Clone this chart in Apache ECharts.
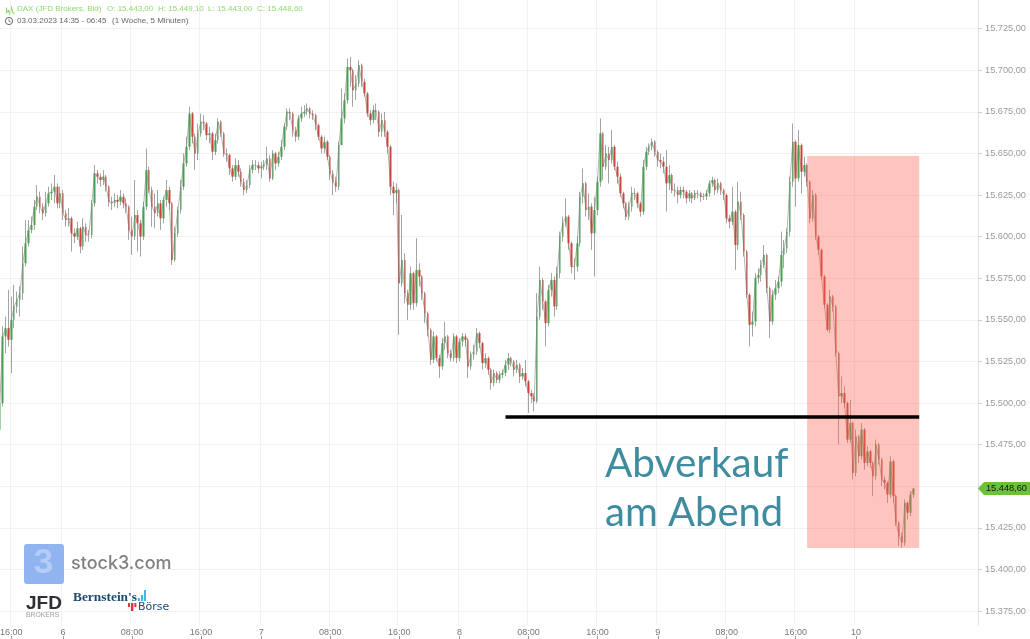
<!DOCTYPE html>
<html><head><meta charset="utf-8">
<style>html,body{margin:0;padding:0;background:#fff}#c{width:1030px;height:639px}</style>
<script src="https://cdn.jsdelivr.net/npm/echarts@6/dist/echarts.min.js"></script>
</head><body><div id="c"></div>
<script>
const opens=[15484,15500,15540,15545,15538,15550,15558,15562,15566,15584,
15596,15604,15607,15618,15624,15618,15614,15620,15626,15627,
15630,15620,15626,15614,15610,15611,15602,15600,15605,15594,
15606,15601,15601,15620,15638,15636,15634,15636,15630,15621,
15620,15622,15621,15624,15620,15618,15604,15600,15613,15608,
15600,15618,15640,15628,15618,15614,15620,15611,15622,15628,
15620,15586,15602,15616,15630,15644,15654,15674,15660,15650,
15662,15669,15668,15661,15662,15651,15658,15669,15662,15650,
15649,15641,15636,15643,15639,15633,15628,15631,15640,15643,
15643,15641,15642,15643,15647,15635,15650,15644,15648,15654,
15666,15675,15674,15664,15660,15671,15674,15675,15677,15674,
15673,15667,15660,15653,15657,15648,15638,15633,15630,15655,
15671,15682,15702,15700,15688,15692,15703,15693,15686,15674,
15670,15676,15675,15663,15670,15663,15654,15630,15626,15628,
15572,15586,15566,15559,15578,15560,15580,15576,15566,15554,
15544,15526,15540,15527,15522,15536,15540,15530,15527,15540,
15527,15537,15540,15538,15522,15529,15531,15542,15536,15524,
15527,15520,15512,15518,15514,15517,15518,15523,15527,15525,
15520,15523,15516,15518,15513,15506,15504,15501,15552,15574,
15561,15548,15568,15574,15558,15578,15600,15608,15612,15596,
15582,15582,15596,15624,15632,15616,15618,15602,15616,15633,
15662,15642,15650,15646,15654,15642,15636,15626,15620,15612,
15618,15626,15626,15620,15615,15642,15651,15654,15657,15651,
15646,15645,15642,15632,15637,15628,15628,15625,15628,15627,
15623,15626,15623,15626,15626,15624,15624,15626,15632,15634,
15628,15632,15628,15625,15611,15609,15615,15595,15621,15613,
15591,15565,15547,15549,15575,15577,15583,15589,15569,15549,
15565,15569,15573,15589,15593,15603,15633,15657,15635,15655,
15639,15643,15633,15611,15625,15600,15592,15576,15559,15544,
15564,15558,15530,15504,15506,15500,15478,15488,15458,15480,
15468,15484,15464,15471,15464,15456,15475,15466,15454,15452,
15445,15465,15444,15428,15420,15416,15440,15434,15445];
const closes=[15500,15540,15545,15538,15550,15558,15562,15566,15584,15596,
15604,15607,15618,15624,15618,15614,15620,15626,15627,15630,
15620,15626,15614,15610,15611,15602,15600,15605,15594,15606,
15601,15601,15620,15638,15636,15634,15636,15630,15621,15620,
15622,15621,15624,15620,15618,15604,15600,15613,15608,15600,
15618,15640,15628,15618,15614,15620,15611,15622,15628,15620,
15586,15602,15616,15630,15644,15654,15674,15660,15650,15662,
15669,15668,15661,15662,15651,15658,15669,15662,15650,15649,
15641,15636,15643,15639,15633,15628,15631,15640,15643,15643,
15641,15642,15643,15647,15635,15650,15644,15648,15654,15666,
15675,15674,15664,15660,15671,15674,15675,15677,15674,15673,
15667,15660,15653,15657,15648,15638,15633,15630,15655,15671,
15682,15702,15700,15688,15692,15703,15693,15686,15674,15670,
15676,15675,15663,15670,15663,15654,15630,15626,15628,15572,
15586,15566,15559,15578,15560,15580,15576,15566,15554,15544,
15526,15540,15527,15522,15536,15540,15530,15527,15540,15527,
15537,15540,15538,15522,15529,15531,15542,15536,15524,15527,
15520,15512,15518,15514,15517,15518,15523,15527,15525,15520,
15523,15516,15518,15513,15506,15504,15501,15552,15574,15561,
15548,15568,15574,15558,15578,15600,15608,15612,15596,15582,
15582,15596,15624,15632,15616,15618,15602,15616,15633,15662,
15642,15650,15646,15654,15642,15636,15626,15620,15612,15618,
15626,15626,15620,15615,15642,15651,15654,15657,15651,15646,
15645,15642,15632,15637,15628,15628,15625,15628,15627,15623,
15626,15623,15626,15626,15624,15624,15626,15632,15634,15628,
15632,15628,15625,15611,15609,15615,15595,15621,15613,15591,
15565,15547,15549,15575,15577,15583,15589,15569,15549,15565,
15569,15573,15589,15593,15603,15633,15657,15635,15655,15639,
15643,15633,15611,15625,15600,15592,15576,15559,15544,15564,
15558,15530,15504,15506,15500,15478,15488,15458,15480,15468,
15484,15464,15471,15464,15456,15475,15466,15454,15452,15445,
15465,15444,15428,15420,15416,15440,15434,15445,15448.6];
const highs=[15505,15546,15552,15568,15564,15571,15567,15570,15594,15610,
15610,15612,15622,15631,15627,15620,15627,15630,15632,15637,
15632,15630,15628,15616,15617,15612,15605,15609,15606,15611,
15608,15604,15622,15643,15640,15638,15640,15637,15631,15624,
15626,15625,15628,15626,15623,15619,15612,15634,15616,15610,
15621,15653,15642,15630,15626,15628,15622,15624,15634,15630,
15621,15606,15618,15634,15650,15660,15678,15675,15662,15668,
15674,15673,15669,15666,15663,15662,15671,15670,15663,15653,
15650,15643,15647,15646,15641,15635,15634,15643,15646,15646,
15645,15645,15646,15654,15649,15652,15651,15651,15658,15668,
15677,15677,15675,15666,15673,15678,15679,15680,15678,15676,
15674,15668,15661,15660,15658,15649,15640,15636,15657,15689,
15686,15707,15708,15701,15697,15706,15704,15695,15687,15676,
15679,15680,15676,15674,15675,15664,15655,15633,15632,15629,
15613,15590,15568,15582,15579,15599,15584,15577,15567,15555,
15545,15543,15541,15529,15539,15549,15541,15532,15542,15541,
15539,15542,15542,15539,15531,15535,15545,15543,15537,15530,
15528,15521,15520,15519,15519,15520,15526,15530,15528,15526,
15526,15524,15521,15526,15514,15508,15506,15566,15582,15575,
15562,15571,15578,15576,15582,15603,15612,15623,15613,15597,
15587,15600,15627,15641,15633,15626,15620,15624,15636,15671,
15663,15655,15654,15664,15655,15645,15638,15627,15621,15621,
15630,15629,15627,15621,15646,15654,15656,15659,15658,15652,
15650,15648,15652,15643,15638,15632,15630,15630,15630,15628,
15628,15627,15628,15628,15627,15626,15628,15634,15636,15635,
15635,15633,15629,15626,15613,15630,15616,15633,15627,15614,
15592,15566,15555,15578,15581,15586,15595,15590,15570,15568,
15574,15576,15603,15598,15605,15636,15668,15658,15664,15656,
15648,15644,15634,15628,15626,15601,15593,15577,15560,15568,
15565,15559,15531,15516,15510,15501,15502,15489,15484,15481,
15488,15485,15474,15472,15465,15478,15476,15467,15456,15453,
15468,15466,15445,15429,15422,15442,15441,15447,15449.1];
const lows=[15482,15498,15530,15534,15518,15545,15554,15552,15562,15582,
15594,15602,15604,15616,15614,15610,15612,15618,15622,15620,
15617,15617,15610,15606,15606,15591,15596,15598,15590,15592,
15597,15597,15599,15618,15632,15630,15631,15627,15618,15616,
15618,15617,15619,15617,15614,15598,15589,15598,15591,15588,
15598,15616,15626,15606,15605,15612,15604,15608,15618,15616,
15583,15585,15600,15614,15628,15642,15652,15656,15640,15646,
15660,15664,15658,15656,15646,15649,15656,15660,15648,15645,
15637,15633,15634,15636,15630,15625,15626,15629,15638,15640,
15638,15635,15640,15640,15633,15634,15640,15642,15646,15652,
15664,15670,15660,15657,15658,15669,15672,15673,15671,15670,
15664,15658,15650,15650,15646,15634,15625,15627,15628,15658,
15668,15680,15690,15678,15682,15690,15690,15684,15672,15667,
15668,15670,15660,15660,15660,15650,15625,15613,15620,15541,
15570,15560,15550,15556,15556,15558,15570,15562,15548,15540,
15523,15524,15525,15515,15520,15532,15527,15525,15525,15524,
15525,15534,15534,15515,15520,15526,15529,15533,15520,15521,
15517,15508,15510,15512,15512,15515,15516,15520,15522,15516,
15518,15512,15514,15510,15494,15500,15495,15500,15550,15556,
15534,15546,15564,15552,15556,15575,15597,15606,15592,15578,
15574,15579,15594,15620,15612,15610,15592,15576,15613,15630,
15634,15640,15632,15644,15640,15632,15624,15617,15610,15610,
15615,15622,15617,15612,15613,15640,15649,15652,15648,15642,
15641,15638,15615,15628,15626,15624,15620,15623,15623,15620,
15621,15620,15622,15623,15621,15622,15622,15624,15630,15625,
15626,15625,15622,15608,15605,15607,15580,15592,15610,15588,
15563,15534,15540,15546,15572,15573,15581,15566,15539,15547,
15562,15566,15570,15581,15590,15600,15630,15618,15633,15626,
15636,15630,15608,15609,15598,15589,15574,15557,15543,15542,
15555,15528,15475,15500,15497,15476,15476,15454,15456,15464,
15466,15460,15462,15461,15444,15454,15463,15450,15448,15440,
15443,15440,15426,15414,15413,15414,15430,15432,15443];

const tickBars=[4,22,46,70,91,115,139,160,184,208,229,253,277,298];
const tickLabels=['16:00','6','08:00','16:00','7','08:00','16:00','8','08:00','16:00','9','08:00','16:00','10'];
const priceTicks=[15725,15700,15675,15650,15625,15600,15575,15550,15525,15500,15475,15450,15425,15400,15375];
const barCount=341;
const lastPrice=15448.6;
const supportLevel=15492;
const supportFrom=176, supportTo=320;
const boxFrom=281, boxTo=320, boxHigh=15648.4, boxLow=15412.9;

const fmt=v=>{const s=Number(v).toFixed(2).replace('.',',');return s.replace(/^(\d+)(\d{3}),/,'$1.$2,')};
const categories=Array.from({length:barCount},(_,i)=>{const k=tickBars.indexOf(i);return k>=0?tickLabels[k]:'b'+i});
const isTick=i=>tickBars.indexOf(i)>=0;
const wickData=opens.map((o,i)=>[o,closes[i],lows[i],highs[i]]);
const bodyData=opens.map((o,i)=>[o,closes[i],Math.min(o,closes[i]),Math.max(o,closes[i])]);

const grey='#9a9a9a', gridC='#f1f1f1', sans='"Liberation Sans",Arial,sans-serif';
const hdr=(x,y,t,c)=>({type:'text',left:x,top:y,silent:true,z:50,style:{text:t,fill:c,font:'8px '+sans}});
const green='#8fd96f';
const wickC='rgba(125,125,125,.7)';
const chart=echarts.init(document.getElementById('c'),null,{renderer:'canvas'});
chart.setOption({
 animation:false,
 grid:{left:-1.6,top:0,width:979.7,height:625,containLabel:false,outerBoundsMode:'none'},
 xAxis:[{type:'category',data:categories,boundaryGap:true,
   axisLine:{show:false},axisTick:{show:false},
   axisLabel:{interval:(i)=>isTick(i),formatter:(v)=>v,color:'#777',fontSize:9,fontFamily:sans,margin:3,hideOverlap:false},
   splitLine:{show:true,interval:(i)=>isTick(i),lineStyle:{color:gridC,width:1}}},
  {type:'category',position:'bottom',offset:11,data:categories,boundaryGap:true,
   axisLine:{show:false},axisLabel:{show:false},splitLine:{show:false},
   axisTick:{show:true,alignWithLabel:true,interval:(i)=>isTick(i),length:4,lineStyle:{color:'#999'}}}],
 yAxis:{type:'value',position:'right',min:15366.6,max:15742.2,
   axisLine:{show:true,lineStyle:{color:'#e3e3e3'}},
   axisTick:{show:true,length:4,customValues:priceTicks,lineStyle:{color:'#cfcfcf'}},
   axisLabel:{customValues:priceTicks,formatter:fmt,color:grey,fontSize:9.2,fontFamily:sans,margin:7},
   splitLine:{show:true,lineStyle:{color:gridC,width:1}}},
 series:[
  {name:'path',type:'line',data:closes,showSymbol:false,z:2,silent:true,lineStyle:{color:'rgba(120,120,120,.55)',width:1}},
  {name:'wick',type:'candlestick',data:wickData,barWidth:1,z:3,
   itemStyle:{color:wickC,color0:wickC,borderColor:wickC,borderColor0:wickC,borderWidth:1}},
  {name:'body',type:'candlestick',data:bodyData,barWidth:2,z:4,
   itemStyle:{color:'#4a9f52',color0:'#c9463a',borderColor:'#4a9f52',borderColor0:'#c9463a',borderWidth:0},
   markArea:{silent:true,z:10,itemStyle:{color:'rgba(255,100,85,.38)'},
     data:[[{xAxis:boxFrom,yAxis:boxHigh},{xAxis:boxTo,yAxis:boxLow}]]},
   markLine:{silent:true,z:11,symbol:'none',label:{show:false},lineStyle:{color:'#000',width:3.6,type:'solid'},
     data:[[{xAxis:supportFrom,yAxis:supportLevel},{xAxis:supportTo,yAxis:supportLevel}]]}}
 ],
 graphic:[
  {type:'group',left:4,top:5,silent:true,children:[
    {type:'polyline',shape:{points:[[0,2],[0,7],[2,5],[3,8],[5,2],[6,7],[8,8]]},style:{stroke:green,fill:null,lineWidth:1.2}}]},
  hdr(17,5,'DAX (JFD Brokers, Bid)',green),
  hdr(107,5,'O: 15.443,00',green),hdr(158,5,'H: 15.449,10',green),hdr(208,5,'L: 15.443,00',green),hdr(257,5,'C: 15.448,60',green),
  {type:'circle',shape:{cx:9,cy:21,r:3.6},style:{stroke:'#666',fill:'#fff',lineWidth:1},silent:true,z:50},
  {type:'polyline',shape:{points:[[9,19],[9,21.3],[10.8,22]]},style:{stroke:'#666',fill:null,lineWidth:.8},silent:true,z:51},
  hdr(17,17,'03.03.2023 14:35 - 06:45','#666'),hdr(112,17,'(1 Woche, 5 Minuten)','#666'),
  {type:'text',left:605,top:443,silent:true,z:60,style:{text:'Abverkauf',fill:'#3f8ba0',font:'40.5px Lato,sans-serif'}},
  {type:'text',left:605,top:493,silent:true,z:60,style:{text:'am Abend',fill:'#3f8ba0',font:'40px Lato,sans-serif'}},
  {type:'polygon',shape:{points:[[978,488.5],[984,482],[1030,482],[1030,495],[984,495]]},style:{fill:'#6cc13c'},silent:true,z:60},
  {type:'text',left:986,top:484,silent:true,z:61,style:{text:fmt(lastPrice),fill:'#111',font:'9.2px '+sans}},
  {type:'rect',shape:{x:24,y:544,width:40,height:40,r:3},style:{fill:'#8fb4f0'},silent:true,z:40},
  {type:'text',left:33,top:547,silent:true,z:41,style:{text:'3',fill:'#b5cdf5',font:'bold 32px Inter,sans-serif'}},
  {type:'text',left:71,top:555,silent:true,z:41,style:{text:'stock3.com',fill:'#808080',font:'500 18px Inter,sans-serif'}},
  {type:'text',left:26,top:594,silent:true,z:41,style:{text:'JFD',fill:'#2c3034',font:'bold 19px "Liberation Sans",sans-serif'}},
  {type:'text',left:26,top:612,silent:true,z:41,style:{text:'BROKERS',fill:'#9c9c9c',font:'6.8px "Liberation Sans",sans-serif'}},
  {type:'text',left:73,top:591,silent:true,z:41,style:{text:"Bernstein's",fill:'#1c4a70',font:'bold 13.4px "Liberation Serif",serif'}},
  {type:'text',left:138,top:602,silent:true,z:41,style:{text:'Börse',fill:'#1c4a70',font:'11px "DejaVu Sans",sans-serif'}},
  {type:'rect',shape:{x:138,y:598,width:2,height:3},style:{fill:'#35bfe8'},silent:true,z:41},
  {type:'rect',shape:{x:141,y:595,width:2,height:6},style:{fill:'#35bfe8'},silent:true,z:41},
  {type:'rect',shape:{x:144,y:590,width:2,height:11},style:{fill:'#35bfe8'},silent:true,z:41},
  {type:'rect',shape:{x:128,y:603,width:2,height:4},style:{fill:'#e8303f'},silent:true,z:41},
  {type:'rect',shape:{x:131,y:603,width:2.4,height:8},style:{fill:'#e8303f'},silent:true,z:41},
  {type:'rect',shape:{x:134.4,y:603,width:2,height:4},style:{fill:'#e8303f'},silent:true,z:41}
 ]
});
</script></body></html>
